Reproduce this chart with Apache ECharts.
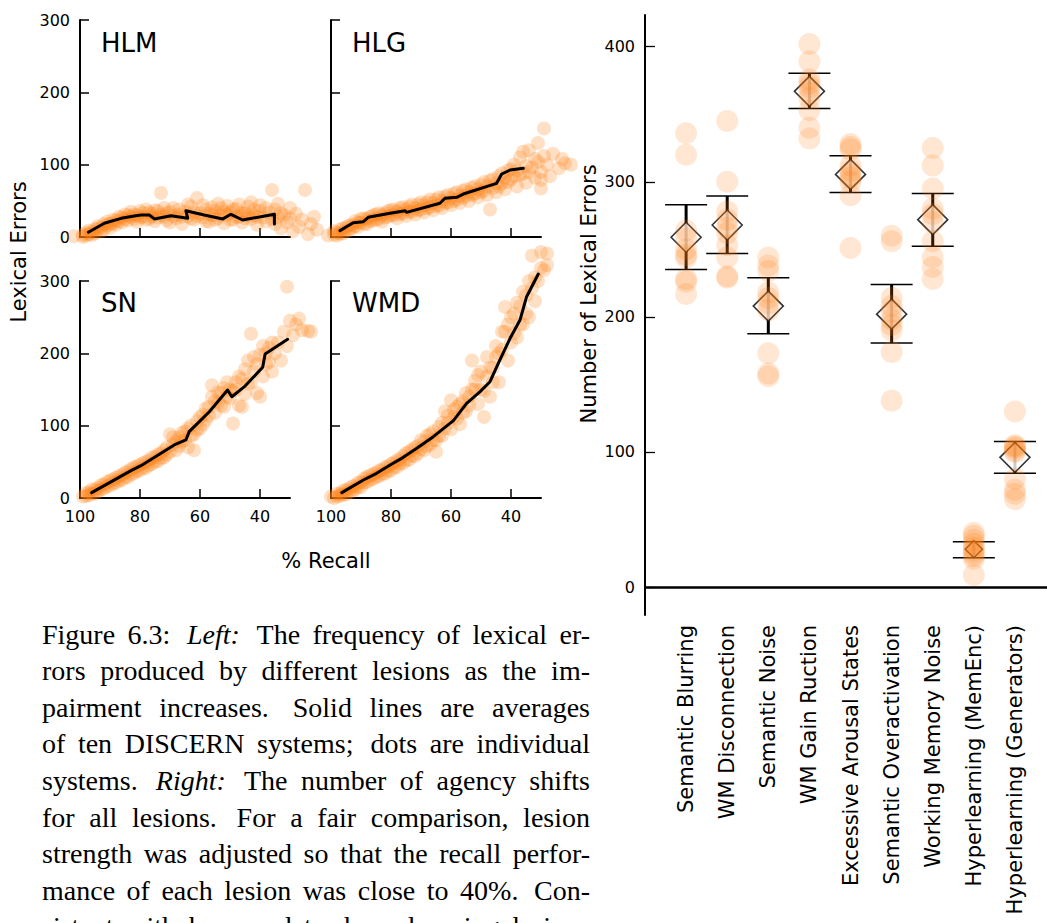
<!DOCTYPE html>
<html><head><meta charset="utf-8">
<script src="https://cdn.jsdelivr.net/npm/echarts@6/dist/echarts.min.js"></script>
<style>html,body{margin:0;padding:0;background:#fff;overflow:hidden}#c{width:1047px;height:923px}</style>
</head><body><div id="c"></div>
<script>
// ---------- data ----------
const PANELS = ['HLM', 'HLG', 'SN', 'WMD'];
const RECALL_TICKS = [40, 60, 80];
const RECALL_LABELS = [40, 60, 80, 100];
const ERR_TICKS_RIGHT = [0, 100, 200, 300, 400];

const HLM_LINE = [[97.2,6.5],[91.9,19],[86.3,25.8],[81.9,29],[79.7,30.4],[76.9,30.4],[75.2,25],[69.7,29.5],[64.1,25.8],[64.7,36.4],[58.6,30.4],[52.4,25],[49.7,31.4],[45.8,23.5],[35.2,31.4],[35.2,18]];
const HLG_LINE = [[97,8.8],[92.6,19.8],[89.2,21.2],[87.6,27.2],[80.3,32.8],[75.3,36.4],[74.8,34.1],[63.7,46.6],[62,53.5],[58.1,54.9],[55.9,59.4],[44.8,74.2],[43.1,87.1],[40.3,92.6],[35.9,95]];
const SN_LINE = [[96.1,7.4],[83,37.8],[79.7,44.7],[73,61.8],[68.6,73.3],[64.7,80.2],[63.6,91.7],[56.9,119.3],[50.8,149.3],[49.4,140],[45.2,153.9],[39.1,180.7],[38.3,199.1],[30.8,219.4]];
const WMD_LINE = [[96.4,7.4],[89.2,24.9],[84.8,34.1],[80.3,45.6],[75.9,56.2],[71.4,68.7],[65.9,84.8],[59.2,106.9],[54.8,130.9],[50.3,147],[47,160.8],[43.7,190.8],[40.3,220.8],[37,246],[34.8,278.3],[30.9,309.7]];

const HLM_DOTS = [[102,1],[99,0],[99,3],[98,2],[98,6],[97,4],[97,9],[96,7],[96,3],[95,5],[95,11],[94,11],[94,15],[93,13],[93,8],[92,10],[92,18],[91,16],[91,21],[90,18],[90,13],[89,19],[89,24],[88,23],[88,17],[87,22],[87,28],[86,27],[86,20],[85,25],[85,31],[84,30],[84,23],[83,28],[83,35],[82,31],[82,25],[81,30],[81,21],[80,27],[80,36],[79,28],[79,33],[78,38],[78,24],[77,25],[77,34],[76,32],[76,28],[75,22],[75,37],[74,36],[74,27],[73,61],[73,31],[72,28],[72,40],[71,33],[71,23],[70,20],[70,35],[69,40],[69,29],[68,26],[67,31],[67,38],[66,18],[66,28],[65,35],[64,29],[64,45],[63,42],[63,26],[62,24],[62,34],[61,54],[61,29],[60,33],[59,27],[59,44],[58,38],[58,22],[57,21],[57,32],[56,30],[56,41],[55,36],[55,24],[54,26],[54,46],[53,40],[53,30],[52,19],[52,35],[51,31],[51,43],[50,34],[50,24],[49,24],[49,38],[48,39],[48,28],[47,28],[47,45],[46,20],[46,33],[45,33],[45,26],[44,42],[44,30],[43,25],[43,48],[42,30],[42,38],[41,17],[41,28],[40,36],[40,44],[39,27],[38,22],[38,40],[37,34],[36,65],[36,25],[35,18],[35,38],[34,28],[34,46],[33,12],[33,33],[32,30],[31,20],[30,26],[30,40],[29,8],[28,32],[27,14],[26,24],[25,65],[24,4],[23,18],[22,28],[21,10]];
const HLG_DOTS = [[101,2],[99,3],[99,8],[98,6],[98,2],[97,10],[97,5],[96,5],[96,12],[95,13],[95,8],[94,9],[94,16],[93,17],[93,12],[92,22],[92,15],[91,14],[91,20],[90,20],[90,25],[89,26],[89,18],[88,18],[88,25],[87,28],[87,22],[86,23],[86,30],[85,31],[85,24],[84,25],[84,33],[83,21],[83,30],[82,33],[82,27],[81,28],[81,36],[80,37],[80,30],[79,30],[79,38],[78,26],[78,35],[77,40],[77,32],[76,33],[76,41],[75,29],[75,38],[74,42],[74,35],[73,35],[73,45],[72,31],[72,40],[71,45],[71,37],[70,38],[70,48],[69,34],[69,44],[68,48],[68,40],[67,41],[67,52],[66,37],[66,47],[65,52],[65,43],[64,44],[64,55],[63,40],[63,50],[62,56],[62,47],[61,48],[61,58],[60,44],[60,54],[59,60],[59,50],[58,52],[58,62],[57,47],[57,57],[56,64],[56,54],[55,57],[55,66],[54,50],[54,62],[53,68],[53,58],[52,60],[52,70],[51,55],[51,66],[50,72],[50,62],[49,64],[49,76],[48,58],[48,70],[47,78],[47,38],[46,68],[46,80],[45,62],[45,74],[44,84],[44,70],[43,74],[43,88],[42,66],[42,82],[41,92],[41,76],[40,80],[40,94],[39,100],[39,84],[38,70],[38,92],[37,110],[37,86],[36,88],[36,118],[35,75],[35,98],[34,120],[34,90],[33,96],[32,82],[32,108],[31,104],[31,130],[30,90],[30,79],[30,67],[29,150],[29,112],[28,100],[27,84],[26,115],[24,95],[23,108],[22,102],[20,100]];
const SN_DOTS = [[99,2],[98,3],[98,7],[97,8],[97,4],[96,12],[96,6],[95,6],[95,11],[94,14],[94,9],[93,18],[93,12],[92,13],[92,19],[91,22],[91,16],[90,17],[90,24],[89,26],[89,20],[88,21],[88,28],[87,30],[87,24],[86,25],[86,32],[85,35],[85,28],[84,29],[84,37],[83,40],[83,33],[82,34],[82,42],[81,44],[81,37],[80,38],[80,46],[79,48],[79,41],[78,42],[78,50],[77,52],[77,45],[76,47],[76,56],[75,57],[75,50],[74,51],[74,60],[73,62],[73,55],[72,56],[72,66],[71,70],[71,60],[70,88],[70,64],[69,74],[69,84],[68,66],[68,78],[67,84],[67,72],[66,78],[66,90],[65,92],[65,80],[64,70],[64,96],[63,100],[63,86],[62,88],[62,66],[61,106],[61,94],[60,96],[60,112],[59,115],[59,102],[58,108],[58,124],[57,126],[57,114],[56,140],[56,156],[55,118],[55,134],[54,132],[54,146],[53,145],[53,128],[52,126],[52,152],[51,160],[51,140],[50,138],[50,150],[49,103],[49,148],[48,150],[48,160],[47,128],[47,168],[46,165],[46,126],[45,144],[45,178],[44,190],[44,158],[43,160],[43,227],[42,175],[42,195],[41,145],[41,185],[40,198],[40,140],[39,168],[39,210],[38,185],[38,200],[37,208],[37,188],[36,175],[36,215],[35,200],[34,215],[33,190],[32,230],[31,210],[31,292],[30,245],[29,225],[28,240],[27,248],[26,232],[24,231],[23,230]];
const WMD_DOTS = [[100,2],[99,0],[98,2],[98,6],[97,6],[97,3],[96,10],[96,5],[95,5],[95,11],[94,13],[94,8],[93,9],[93,16],[92,17],[92,12],[91,21],[91,15],[90,15],[90,22],[89,27],[89,21],[88,22],[88,29],[87,31],[87,25],[86,26],[86,33],[85,35],[85,29],[84,30],[84,38],[83,39],[83,33],[82,34],[82,42],[81,44],[81,37],[80,38],[80,47],[79,49],[79,42],[78,43],[78,52],[77,54],[77,47],[76,48],[76,58],[75,62],[75,52],[74,53],[74,64],[73,67],[73,58],[72,58],[72,70],[71,72],[71,62],[70,80],[70,68],[69,66],[69,78],[68,86],[68,72],[67,74],[67,88],[66,92],[66,80],[65,80],[65,64],[64,98],[64,86],[63,86],[63,104],[62,120],[62,96],[61,104],[61,114],[60,95],[60,135],[59,112],[59,122],[58,126],[58,110],[57,102],[57,130],[56,134],[56,118],[55,120],[55,145],[54,140],[54,128],[53,190],[53,150],[52,150],[52,162],[51,130],[51,170],[50,175],[50,150],[49,148],[49,112],[48,168],[48,195],[47,140],[47,180],[46,180],[46,160],[45,195],[45,210],[44,160],[44,200],[43,205],[43,230],[42,230],[42,264],[41,190],[41,240],[40,215],[40,250],[39,255],[39,228],[38,222],[38,270],[37,265],[37,240],[36,240],[36,285],[35,280],[35,255],[34,250],[34,300],[33,290],[33,335],[32,272],[32,305],[31,300],[30,318],[30,340],[29,315],[28,322],[28,338]];

const CATEGORIES = ['Semantic Blurring','WM Disconnection','Semantic Noise','WM Gain Ruction','Excessive Arousal States','Semantic Overactivation','Working Memory Noise','Hyperlearning (MemEnc)','Hyperlearning (Generators)'];
const MEANS = [259, 268, 208, 367, 305.5, 202, 272, 28, 96];
const LOWER = [235, 247, 187.5, 354.3, 292, 180.6, 252.3, 21.7, 84.3];
const UPPER = [283, 289.5, 229, 380.4, 319.3, 224, 291.4, 33.5, 107.7];
const DOTS_SB = [336, 320, 264, 258, 250, 246, 244, 228, 226, 217];
const DOTS_WMDISC = [345, 300, 278, 272, 266, 262, 253, 244, 230, 229];
const DOTS_SNOISE = [244, 238, 234, 218, 214, 210, 205, 173, 158, 156];
const DOTS_WMGAIN = [402, 389, 376, 373, 370, 366, 362, 353, 340, 332];
const DOTS_EAS = [328, 326, 324, 312, 308, 305, 303, 300, 290, 251];
const DOTS_SOVER = [260, 256, 214, 208, 204, 198, 194, 190, 174, 138];
const DOTS_WMNOISE = [325, 312, 295, 280, 276, 270, 256, 244, 237, 228];
const DOTS_HMEM = [40, 38, 35, 32, 29, 27, 25, 23, 21, 9];
const DOTS_HGEN = [130, 105, 104, 103, 101, 100, 80, 72, 69, 65];

const CAPTION_LINES = [
  'Figure 6.3: _Left:_ The frequency of lexical er-',
  'rors produced by different lesions as the im-',
  'pairment increases.  Solid lines are averages',
  'of ten DISCERN systems; dots are individual',
  'systems. _Right:_ The number of agency shifts',
  'for all lesions.  For a fair comparison, lesion',
  'strength was adjusted so that the recall perfor-',
  'mance of each lesion was close to 40%. Con-',
  'sistent with human data, hyperlearning lesions'
];

// ---------- build ----------
const FONT = 'DejaVu Sans';
const PANEL_LINES = [HLM_LINE, HLG_LINE, SN_LINE, WMD_LINE];
const PANEL_DOTS = [HLM_DOTS, HLG_DOTS, SN_DOTS, WMD_DOTS];
const GRID_POS = [
  {left: 80, top: 20, width: 210, height: 217},
  {left: 331, top: 20, width: 210, height: 217},
  {left: 80, top: 281, width: 210, height: 217},
  {left: 331, top: 281, width: 210, height: 217},
  {left: 645, top: 15, right: 0, height: 600}
];
const RIGHT_DOTS = [DOTS_SB, DOTS_WMDISC, DOTS_SNOISE, DOTS_WMGAIN, DOTS_EAS, DOTS_SOVER, DOTS_WMNOISE, DOTS_HMEM, DOTS_HGEN];

const xAxes = [], yAxes = [], series = [];
PANELS.forEach((p, i) => {
  xAxes.push({
    gridIndex: i, type: 'value', inverse: true, min: 30, max: 100,
    axisLine: {show: true, onZero: false, lineStyle: {color: '#000', width: 2}},
    axisTick: {show: true, inside: true, length: 9, customValues: RECALL_TICKS, lineStyle: {color: '#000', width: 1.5}},
    axisLabel: {show: i >= 2, customValues: RECALL_LABELS, fontSize: 16, fontFamily: FONT, color: '#000', margin: 10},
    splitLine: {show: false}
  });
  yAxes.push({
    gridIndex: i, type: 'value', min: 0, max: 300, interval: 100,
    axisLine: {show: true, onZero: false, lineStyle: {color: '#000', width: 2}},
    axisTick: {show: true, inside: true, length: 9, lineStyle: {color: '#000', width: 1.5}},
    axisLabel: {show: i % 2 === 0, fontSize: 16, fontFamily: FONT, color: '#000', margin: 10},
    splitLine: {show: false}
  });
  series.push({
    type: 'scatter', xAxisIndex: i, yAxisIndex: i, data: PANEL_DOTS[i], clip: false,
    symbolSize: 14, itemStyle: {color: 'rgba(255,127,14,0.3)'}, z: 2, silent: true
  });
  series.push({
    type: 'line', xAxisIndex: i, yAxisIndex: i, data: PANEL_LINES[i], clip: false,
    showSymbol: false, symbol: 'none', lineStyle: {color: '#000', width: 3, cap: 'round', join: 'round'}, z: 3, silent: true
  });
});

xAxes.push({
  gridIndex: 4, type: 'value', min: 0, max: 9.78,
  axisLine: {show: false, onZero: false}, axisTick: {show: false}, splitLine: {show: false},
  axisLabel: {
    show: true, customValues: CATEGORIES.map((c, i) => i + 1), rotate: 90, margin: 10,
    fontSize: 21, fontFamily: FONT, color: '#000',
    formatter: v => CATEGORIES[Math.round(v) - 1] || ''
  }
});
yAxes.push({
  gridIndex: 4, type: 'value', min: -20.7, max: 423.5,
  axisLine: {show: true, onZero: false, lineStyle: {color: '#000', width: 2}},
  axisTick: {show: true, inside: true, length: 10, customValues: ERR_TICKS_RIGHT, lineStyle: {color: '#000', width: 1.3}},
  axisLabel: {show: true, customValues: ERR_TICKS_RIGHT, fontSize: 16, fontFamily: FONT, color: '#000', margin: 10},
  splitLine: {show: false}
});

series.push({
  type: 'custom', xAxisIndex: 4, yAxisIndex: 4, z: 3, silent: true, clip: false,
  data: CATEGORIES.map((c, i) => [i + 1, LOWER[i], UPPER[i]]),
  renderItem: (params, api) => {
    const x = api.value(0);
    const lo = api.coord([x, api.value(1)]);
    const hi = api.coord([x, api.value(2)]);
    const hw = 21;
    return {type: 'group', children: [
      {type: 'line', shape: {x1: lo[0], y1: lo[1], x2: hi[0], y2: hi[1]}, style: {stroke: '#000', lineWidth: 3}},
      {type: 'line', shape: {x1: lo[0] - hw, y1: lo[1], x2: lo[0] + hw, y2: lo[1]}, style: {stroke: '#000', lineWidth: 1.5}},
      {type: 'line', shape: {x1: hi[0] - hw, y1: hi[1], x2: hi[0] + hw, y2: hi[1]}, style: {stroke: '#000', lineWidth: 1.5}}
    ]};
  }
});
series.push({
  type: 'scatter', xAxisIndex: 4, yAxisIndex: 4, z: 4, silent: true, symbol: 'diamond',
  data: MEANS.map((m, i) => ({value: [i + 1, m], symbolSize: i === 7 ? 17 : 30})),
  itemStyle: {color: '#fff', borderColor: '#000', borderWidth: 1.6}
});
const rightDotData = [];
RIGHT_DOTS.forEach((arr, i) => arr.forEach(v => rightDotData.push([i + 1, v])));
series.push({
  type: 'scatter', xAxisIndex: 4, yAxisIndex: 4, z: 5, silent: true,
  data: rightDotData, symbolSize: 22, itemStyle: {color: 'rgba(255,127,14,0.23)'},
  markLine: {
    silent: true, symbol: ['none', 'none'], animation: false,
    label: {show: false}, lineStyle: {color: '#000', width: 2.5, type: 'solid'},
    data: [{yAxis: 0}]
  }
});

// ---------- text elements ----------
const graphics = [];
const titlePos = [[101, 43], [352, 43], [101, 303], [352, 303]];
PANELS.forEach((p, i) => graphics.push({type: 'text', x: titlePos[i][0], y: titlePos[i][1], silent: true,
  style: {text: p, fontSize: 26, fontFamily: FONT, fill: '#000', align: 'left', verticalAlign: 'middle'}}));
graphics.push({type: 'text', x: 19, y: 252, rotation: Math.PI / 2, silent: true,
  style: {text: 'Lexical Errors', fontSize: 21, fontFamily: FONT, fill: '#000', align: 'center', verticalAlign: 'middle'}});
graphics.push({type: 'text', x: 326, y: 561, silent: true,
  style: {text: '% Recall', fontSize: 21, fontFamily: FONT, fill: '#000', align: 'center', verticalAlign: 'middle'}});
graphics.push({type: 'text', x: 589, y: 294, rotation: Math.PI / 2, silent: true,
  style: {text: 'Number of Lexical Errors', fontSize: 21, fontFamily: FONT, fill: '#000', align: 'center', verticalAlign: 'middle'}});

// caption, justified
const CAP_FS = 28, CAP_LEFT = 42, CAP_RIGHT = 590, CAP_Y0 = 634, CAP_DY = 36.6;
const mctx = document.createElement('canvas').getContext('2d');
CAPTION_LINES.forEach((line, li) => {
  const words = line.split(/\s+/).map(w => {
    const it = /^_.*_$/.test(w);
    return {t: it ? w.slice(1, -1) : w, it};
  });
  const widths = words.map(w => {
    mctx.font = (w.it ? 'italic ' : '') + CAP_FS + 'px "Liberation Serif"';
    return mctx.measureText(w.t).width;
  });
  const total = widths.reduce((a, b) => a + b, 0);
  const weights = words.slice(0, -1).map(w => /[.:;]$/.test(w.t) ? 1.35 : 1);
  const wsum = weights.reduce((a, b) => a + b, 0);
  const unit = (CAP_RIGHT - CAP_LEFT - total) / wsum;
  let x = CAP_LEFT;
  words.forEach((w, k) => {
    graphics.push({type: 'text', x: x, y: CAP_Y0 + li * CAP_DY, silent: true,
      style: {text: w.t, fontSize: CAP_FS, fontFamily: 'Liberation Serif', fontStyle: w.it ? 'italic' : 'normal',
        fill: '#000', align: 'left', verticalAlign: 'middle'}});
    x += widths[k] + (k < weights.length ? unit * weights[k] : 0);
  });
});

const chart = echarts.init(document.getElementById('c'), null, {renderer: 'svg', width: 1047, height: 923});
chart.setOption({
  animation: false,
  backgroundColor: '#fff',
  grid: GRID_POS.map(g => Object.assign({containLabel: false}, g)),
  xAxis: xAxes,
  yAxis: yAxes,
  series: series,
  graphic: graphics
});
</script>
</body></html>
